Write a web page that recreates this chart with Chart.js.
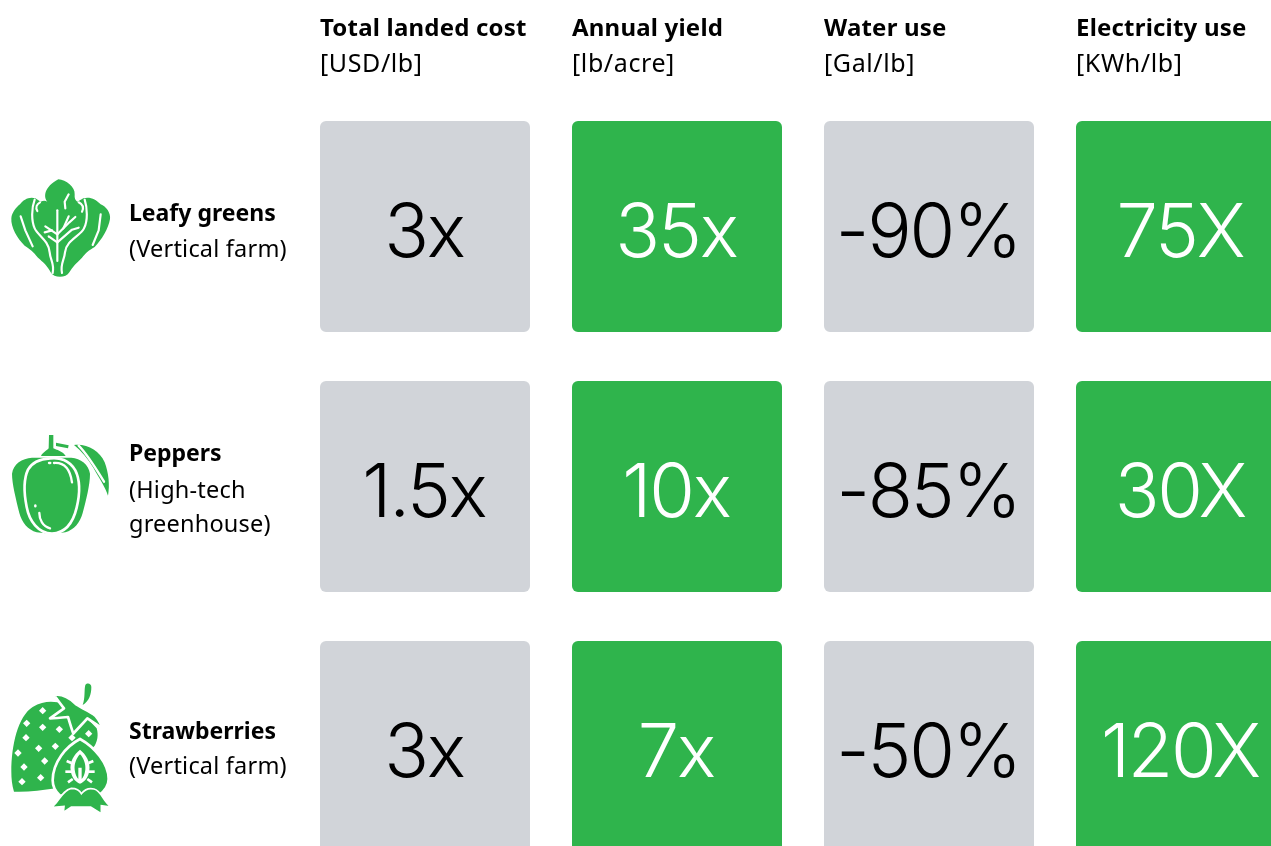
<!DOCTYPE html>
<html>
<head>
<meta charset="utf-8">
<script src="https://cdn.jsdelivr.net/npm/chart.js@4"></script>
<style>
  html, body { margin: 0; padding: 0; background: #fff; overflow: hidden; width: 1271px; height: 846px; }
  #stage { position: relative; width: 1271px; height: 846px; overflow: hidden; }
  #wrap { position: absolute; left: 0; top: 0; width: 1400px; height: 900px; }
  svg.icon { position: absolute; }
</style>
</head>
<body>
<div id="stage">
  <div id="wrap"><canvas id="chart" width="1400" height="900"></canvas></div>

  <!-- Leafy greens -->
  <svg class="icon" style="left:0;top:165px" width="120" height="125" viewBox="0 0 360 375">
    <path fill="#2fb44c" d="M175 43C198 45 226 66 224 88C223 100 226 106 232 110L250 100C268 94 288 102 302 118C318 124 333 144 330 162C326 190 304 226 284 246C266 256 258 264 246 278C232 292 218 304 208 322C198 340 162 340 152 322C144 304 128 290 114 278C100 260 90 252 74 242C52 222 32 186 34 160C35 142 50 126 60 118C70 104 88 94 106 100L122 110C130 106 136 106 142 110C130 96 132 66 175 43Z"/>
    <g fill="none" stroke="#fff" stroke-width="6.5" stroke-linecap="round" stroke-linejoin="round">
      <path d="M172 136V288"/>
      <path d="M172 208L136 184"/><path d="M156 196L134 202"/><path d="M172 232L146 214"/>
      <path d="M172 208L208 172L226 156"/><path d="M190 190L206 154"/><path d="M172 232L216 194L236 188"/>
      <path d="M206 88L194 110L196 130"/>
      <path d="M62 154L76 196L98 244"/>
      <path d="M302 148L296 196L278 240"/>
      <path d="M104 104C94 130 94 168 104 190C114 212 146 226 149 262C151 286 164 296 158 324"/>
      <path d="M254 104C262 128 264 168 252 190C242 212 198 226 195 262C193 286 180 296 186 324"/>
      <path d="M120 112C110 118 106 128 112 138"/>
      <path d="M236 112C248 118 252 128 246 140"/>
    </g>
  </svg>

  <!-- Peppers -->
  <svg class="icon" style="left:0;top:425px" width="120" height="120" viewBox="0 0 360 360">
    <g fill="#2fb44c">
      <path d="M96 98C66 100 40 116 36 146C36 176 48 222 58 264C66 294 84 314 110 322L156 327L196 322C222 314 240 294 248 264C258 226 270 180 270 146C266 118 242 100 214 98Z"/>
      <path d="M123 93C128 82 142 76 146 70L147 30H160L160 70C168 74 190 80 197 93Z"/>
      <path d="M168 53L206 61L204 70L168 63Z"/>
      <path d="M222 60C262 56 298 76 314 112C326 144 330 180 324 212C316 186 298 160 280 128C264 102 244 78 222 60Z"/>
    </g>
    <path fill="#2fb44c" stroke="#fff" stroke-width="8" d="M150 100C178 96 208 106 226 136C240 164 240 206 230 248C220 290 198 324 156 326C114 324 88 288 80 246C72 206 70 164 84 134C96 112 122 102 150 100Z"/>
    <g fill="none" stroke="#fff" stroke-width="7" stroke-linecap="round">
      <path d="M162 114C190 112 210 130 216 172"/>
      <path d="M147 114H151"/>
      <path d="M106 241V244"/>
      <path d="M118 264C118 284 128 304 150 310"/>
      <path d="M236 62C262 88 284 124 312 170"/>
    </g>
  </svg>

  <!-- Strawberries -->
  <svg class="icon" style="left:0;top:675px" width="120" height="140" viewBox="0 0 360 420">
    <path fill="#2fb44c" d="M34 290C34 210 54 124 98 96C124 80 150 78 172 82L200 96L240 108L290 160C296 180 292 200 284 212L168 340C124 346 80 352 42 350C36 330 34 310 34 290Z"/>
    <path fill="#2fb44c" stroke="#fff" stroke-width="8" stroke-linejoin="round" d="M162 60C186 56 206 66 226 86C236 96 268 106 286 122C296 134 304 146 306 160C290 148 274 138 262 130C248 146 234 160 220 176C214 160 210 146 204 126C186 128 168 130 150 130C164 120 178 110 192 100C182 88 172 74 162 60Z"/>
    <path fill="#2fb44c" d="M248 90C256 68 252 44 256 30C262 22 274 26 274 36C274 58 268 78 248 90Z"/>
    <g fill="#fff">
      <path d="M128 96l11 11-11 11-11-11z"/><path d="M80 134l11 11-11 11-11-11z"/>
      <path d="M128 146l11 11-11 11-11-11z"/><path d="M178 152l11 11-11 11-11-11z"/>
      <path d="M78 177l11 11-11 11-11-11z"/><path d="M116 209l11 11-11 11-11-11z"/>
      <path d="M166 203l11 11-11 11-11-11z"/><path d="M54 223l11 11-11 11-11-11z"/>
      <path d="M134 247l11 11-11 11-11-11z"/><path d="M72 265l11 11-11 11-11-11z"/>
      <path d="M122 297l11 11-11 11-11-11z"/><path d="M66 309l11 11-11 11-11-11z"/>
      <path d="M216 177l11 11-11 11-11-11z"/><path d="M266 165l11 11-11 11-11-11z"/>
    </g>
    <path fill="#2fb44c" stroke="#fff" stroke-width="8" d="M158 316C158 262 198 214 240 192C284 216 326 266 326 312C326 336 312 350 296 362H180C166 350 158 336 158 316Z"/>
    <path fill="#fff" d="M240 224C258 238 272 262 268 286C266 306 254 322 240 326C226 322 214 306 212 286C208 262 222 238 240 224Z"/>
    <path fill="#2fb44c" d="M240 238C250 248 258 266 256 284C254 298 250 306 245 312V278H235V312C230 306 226 298 224 284C222 266 230 248 240 238Z"/>
    <g fill="none" stroke="#fff" stroke-width="8"><path d="M200 258L214 264"/><path d="M196 290H214"/><path d="M204 322L218 312"/><path d="M280 258L266 264"/><path d="M284 290H266"/><path d="M276 322L262 312"/></g>
    <path fill="#2fb44c" stroke="#fff" stroke-width="5" d="M152 398C176 386 184 346 214 340C230 340 240 348 244 356C252 346 266 338 282 342C306 348 308 380 334 396L304 392V416L272 396H214L190 412L192 394Z"/>
  </svg>
</div>

<script>
// Column headers and units
const metricNames = ["Total landed cost", "Annual yield", "Water use", "Electricity use"];
const metricUnits = ["[USD/lb]", "[lb/acre]", "[Gal/lb]", "[KWh/lb]"];

// Crop names and how each was grown
const cropNames = ["Leafy greens", "Peppers", "Strawberries"];
const cropMethods = [["(Vertical farm)"], ["(High-tech", "greenhouse)"], ["(Vertical farm)"]];

// Comparison figures by crop, one entry per metric
const leafyGreens = ["3x", "35x", "-90%", "75X"];
const peppers = ["1.5x", "10x", "-85%", "30X"];
const strawberries = ["3x", "7x", "-50%", "120X"];
const cropValues = [leafyGreens, peppers, strawberries];

// Tile colouring per metric
const GREY = "#d1d4d9";
const GREEN = "#2fb44c";
const tileColors = [GREY, GREEN, GREY, GREEN];
const figureColors = ["#000000", "#ffffff", "#000000", "#ffffff"];

// Each tile fills its row band apart from a small inset
const ROW_INSET = 0.0942;

const LABEL_FONT = '"Noto Sans", sans-serif';
const FIGURE_FONT = 'Inter, sans-serif';

const tileText = {
  id: "tileText",
  afterDatasetsDraw(chart) {
    const { ctx, scales: { y } } = chart;
    ctx.save();
    // Big figures centred on each tile
    ctx.textAlign = "center";
    ctx.textBaseline = "alphabetic";
    ctx.font = '350 74px ' + FIGURE_FONT;
    ctx.letterSpacing = "-2.2px";
    chart.data.datasets.forEach((ds, r) => {
      chart.getDatasetMeta(r).data.forEach((bar, c) => {
        ctx.fillStyle = figureColors[c];
        ctx.fillText(cropValues[r][c], bar.x - 1, y.getPixelForValue(r + 0.5) + 30);
      });
    });
    // Column headers, flush with the left edge of the tiles
    ctx.textAlign = "left";
    const bars = chart.getDatasetMeta(0).data;
    metricNames.forEach((name, c) => {
      const left = bars[c].x - bars[c].width / 2;
      ctx.fillStyle = "#000";
      ctx.font = '700 24px ' + LABEL_FONT;
      ctx.letterSpacing = "0.2px";
      ctx.fillText(name, left, 36);
      ctx.font = '400 25px ' + LABEL_FONT;
      ctx.letterSpacing = "0.6px";
      ctx.fillText(metricUnits[c], left, 72);
    });
    // Row captions beside the icons
    const captionOffset = [-6, -26, -8];
    const methodGap = [36.5, 37.5, 35.5];
    cropNames.forEach((name, r) => {
      const mid = y.getPixelForValue(r + 0.5);
      ctx.fillStyle = "#000";
      ctx.font = '700 23px ' + LABEL_FONT;
      ctx.letterSpacing = "0px";
      ctx.fillText(name, 129, mid + captionOffset[r]);
      ctx.font = '400 23.5px ' + LABEL_FONT;
      ctx.letterSpacing = "0.2px";
      cropMethods[r].forEach((line, i) => {
        ctx.fillText(line, 129, mid + captionOffset[r] + methodGap[r] + i * 34);
      });
    });
    ctx.restore();
  }
};

new Chart(document.getElementById("chart"), {
  type: "bar",
  data: {
    labels: metricNames,
    datasets: cropValues.map((values, r) => ({
      label: cropNames[r],
      data: values.map(() => [r + ROW_INSET, r + 1 - ROW_INSET]),
      backgroundColor: tileColors,
      borderRadius: 6,
      borderSkipped: false,
      grouped: false,
      barPercentage: 210 / 252,
      categoryPercentage: 1
    }))
  },
  options: {
    responsive: false,
    animation: false,
    layout: { padding: { left: 299, right: 93, top: 96.5, bottom: 23.5 } },
    plugins: { legend: { display: false }, tooltip: { enabled: false } },
    scales: {
      x: { display: false },
      y: { display: false, min: 0, max: 3, reverse: true }
    }
  },
  plugins: [tileText]
});
</script>
</body>
</html>
